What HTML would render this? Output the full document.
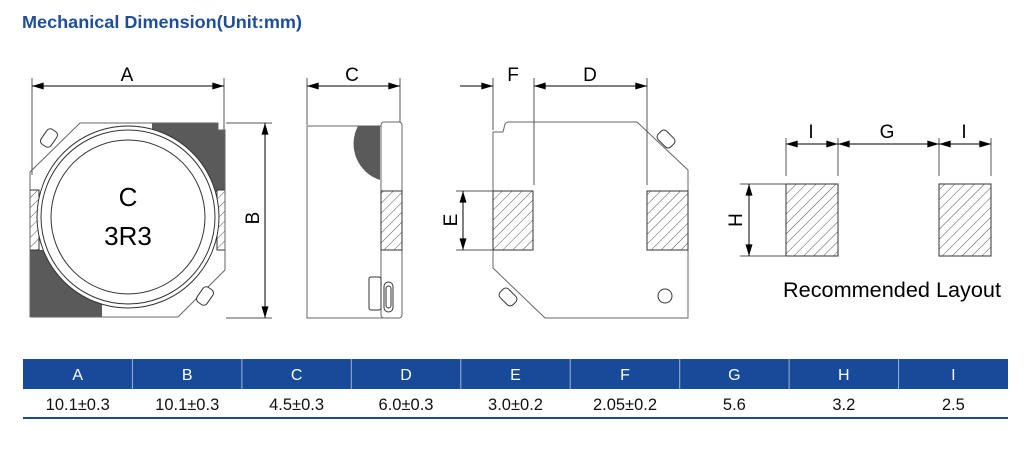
<!DOCTYPE html>
<html><head><meta charset="utf-8"><style>
body{margin:0;background:#fff;width:1024px;height:450px;overflow:hidden;font-family:"Liberation Sans",sans-serif}
</style></head><body>
<svg width="1024" height="450" viewBox="0 0 1024 450" xmlns="http://www.w3.org/2000/svg" font-family="Liberation Sans, sans-serif">
<defs>
<pattern id="h" width="7" height="7" patternUnits="userSpaceOnUse" patternTransform="rotate(45)">
<rect width="7" height="7" fill="#fff"/><line x1="0" y1="0" x2="0" y2="7" stroke="#555" stroke-width="1"/></pattern>
<marker id="a" viewBox="0 0 10 6" refX="10" refY="3" markerWidth="14" markerHeight="7" orient="auto-start-reverse" markerUnits="userSpaceOnUse"><path d="M0,0L10,3L0,6z" fill="#000"/></marker>
<clipPath id="body1"><path d="M80,123 L218,123 L218,130 L225,130 L225,270 L178,317 L30,317 L30,172 Z"/></clipPath>
</defs>
<text x="22" y="28" font-size="17.5" font-weight="bold" fill="#1f4e9a" textLength="280" lengthAdjust="spacingAndGlyphs">Mechanical Dimension(Unit:mm)</text>

<g stroke="#333" stroke-width="1" fill="none">
<g clip-path="url(#body1)">
<rect x="152" y="120" width="80" height="72" fill="#5a5a5a" stroke="none"/>
<rect x="25" y="250" width="77" height="70" fill="#5a5a5a" stroke="none"/>
<rect x="30" y="190" width="9" height="60" fill="url(#h)"/>
<rect x="217" y="190" width="9" height="60" fill="url(#h)"/>
</g>
<path d="M80,123 L218,123 L218,130 L225,130 L225,270 L178,317 L30,317 L30,172 Z" stroke="#666"/>
<circle cx="128" cy="217" r="91" fill="#fff"/>
<circle cx="128" cy="217" r="87"/>
<circle cx="128" cy="217" r="77"/>
<rect x="40" y="132" width="18" height="12" rx="4" transform="rotate(-55 49 138)" fill="#fff"/>
<rect x="196" y="290" width="18" height="12" rx="4" transform="rotate(-55 205 296)" fill="#fff"/>
<line x1="32" y1="78" x2="32" y2="175" stroke="#555"/>
<line x1="224" y1="78" x2="224" y2="130" stroke="#555"/>
<line x1="32" y1="86" x2="224" y2="86" stroke="#000" marker-start="url(#a)" marker-end="url(#a)"/>
<line x1="226" y1="123" x2="272" y2="123" stroke="#555"/>
<line x1="226" y1="318" x2="272" y2="318" stroke="#555"/>
<line x1="265" y1="123" x2="265" y2="318" stroke="#000" marker-start="url(#a)" marker-end="url(#a)"/>

<rect x="307" y="126" width="75" height="192" stroke="#666"/>
<path d="M358,126 L380,126 L380,180 A38,38 0 0 1 358,126 Z" fill="#5a5a5a" stroke="none"/>
<rect x="381" y="122" width="21" height="196" rx="3" fill="#fff" stroke="#666"/>
<rect x="381" y="191" width="21" height="59" fill="url(#h)"/>
<rect x="369" y="277" width="12" height="33" rx="2"/>
<rect x="384" y="282" width="9" height="30" rx="4.5"/>
<rect x="386" y="286" width="5" height="22" rx="2.5"/>
<line x1="307" y1="78" x2="307" y2="125" stroke="#555"/>
<line x1="400" y1="78" x2="400" y2="122" stroke="#555"/>
<line x1="307" y1="86" x2="400" y2="86" stroke="#000" marker-start="url(#a)" marker-end="url(#a)"/>

<path d="M493,132 L503,132 L505,124 Q506,122 509,122 L637,122 L688,170 L688,318 L545,318 L493,268 Z" stroke="#666"/>
<rect x="493" y="191" width="40" height="59" fill="url(#h)"/>
<rect x="647" y="191" width="41" height="59" fill="url(#h)"/>
<circle cx="665" cy="296" r="7"/>
<rect x="657" y="133" width="18" height="12" rx="4" transform="rotate(45 666 139)" fill="#fff"/>
<rect x="499" y="291" width="18" height="12" rx="4" transform="rotate(45 508 297)" fill="#fff"/>
<line x1="493" y1="78" x2="493" y2="130" stroke="#555"/>
<line x1="534" y1="78" x2="534" y2="185" stroke="#555"/>
<line x1="647" y1="78" x2="647" y2="185" stroke="#555"/>
<line x1="460" y1="86" x2="493" y2="86" stroke="#000" marker-end="url(#a)"/>
<line x1="534" y1="86" x2="647" y2="86" stroke="#000" marker-start="url(#a)" marker-end="url(#a)"/>
<line x1="456" y1="191" x2="493" y2="191" stroke="#555"/>
<line x1="456" y1="250" x2="493" y2="250" stroke="#555"/>
<line x1="463" y1="191" x2="463" y2="250" stroke="#000" marker-start="url(#a)" marker-end="url(#a)"/>

<rect x="786" y="184" width="52" height="72" fill="url(#h)"/>
<rect x="939" y="184" width="52" height="72" fill="url(#h)"/>
<line x1="786" y1="138" x2="786" y2="176" stroke="#555"/>
<line x1="838" y1="138" x2="838" y2="176" stroke="#555"/>
<line x1="939" y1="138" x2="939" y2="176" stroke="#555"/>
<line x1="991" y1="138" x2="991" y2="176" stroke="#555"/>
<line x1="786" y1="144" x2="838" y2="144" stroke="#000" marker-start="url(#a)" marker-end="url(#a)"/>
<line x1="838" y1="144" x2="939" y2="144" stroke="#000" marker-start="url(#a)" marker-end="url(#a)"/>
<line x1="939" y1="144" x2="991" y2="144" stroke="#000" marker-start="url(#a)" marker-end="url(#a)"/>
<line x1="740" y1="184" x2="786" y2="184" stroke="#555"/>
<line x1="740" y1="256" x2="786" y2="256" stroke="#555"/>
<line x1="749" y1="184" x2="749" y2="256" stroke="#000" marker-start="url(#a)" marker-end="url(#a)"/>
</g>

<g font-size="19" fill="#000" text-anchor="middle">
<text x="127" y="81">A</text>
<text x="352" y="81">C</text>
<text x="513" y="81">F</text>
<text x="590" y="81">D</text>
<text x="811" y="138">I</text>
<text x="887" y="138">G</text>
<text x="964" y="138">I</text>
<text transform="translate(259,218) rotate(-90)">B</text>
<text transform="translate(457,220) rotate(-90)">E</text>
<text transform="translate(742,220) rotate(-90)">H</text>
<text x="128" y="206" font-size="26">C</text>
<text x="128" y="245" font-size="26">3R3</text>
</g>
<text x="783" y="297" font-size="21" textLength="218" lengthAdjust="spacingAndGlyphs">Recommended Layout</text>

<rect x="23" y="359" width="985" height="30" fill="#174a98"/>
<g stroke="#9fb4d8" stroke-width="1">
<line x1="132.4" y1="359" x2="132.4" y2="389"/><line x1="241.9" y1="359" x2="241.9" y2="389"/>
<line x1="351.3" y1="359" x2="351.3" y2="389"/><line x1="460.8" y1="359" x2="460.8" y2="389"/>
<line x1="570.2" y1="359" x2="570.2" y2="389"/><line x1="679.7" y1="359" x2="679.7" y2="389"/>
<line x1="789.1" y1="359" x2="789.1" y2="389"/><line x1="898.6" y1="359" x2="898.6" y2="389"/>
</g>
<line x1="23" y1="418" x2="1008" y2="418" stroke="#174a98" stroke-width="2"/>
<g font-size="16" text-anchor="middle" fill="#fff">
<text x="77.7" y="380">A</text><text x="187.2" y="380">B</text><text x="296.6" y="380">C</text>
<text x="406" y="380">D</text><text x="515.5" y="380">E</text><text x="625" y="380">F</text>
<text x="734.4" y="380">G</text><text x="843.8" y="380">H</text><text x="953.3" y="380">I</text>
</g>
<g font-size="16.5" text-anchor="middle" fill="#111">
<text x="77.7" y="410">10.1±0.3</text><text x="187.2" y="410">10.1±0.3</text><text x="296.6" y="410">4.5±0.3</text>
<text x="406" y="410">6.0±0.3</text><text x="515.5" y="410">3.0±0.2</text><text x="625" y="410">2.05±0.2</text>
<text x="734.4" y="410">5.6</text><text x="843.8" y="410">3.2</text><text x="953.3" y="410">2.5</text>
</g>
</svg>
</body></html>
